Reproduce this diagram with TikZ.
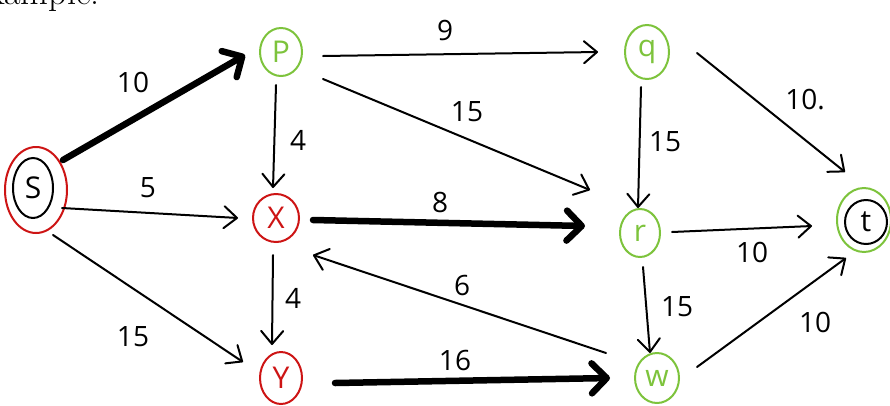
\documentclass[tikz,border=0pt]{standalone}
\usepackage{fontspec}
\newfontfamily\hand{Open Sans}
\usetikzlibrary{arrows.meta,shapes.geometric,calc}
\definecolor{hred}{RGB}{205,20,20}
\definecolor{hgreen}{RGB}{125,195,60}
\begin{document}
\begin{tikzpicture}[x=1pt,y=-1pt,
  vtx/.style={ellipse,draw,line width=2pt,inner sep=0pt,font=\hand\fontsize{30}{30}\selectfont},
  lbl/.style={font=\hand\fontsize{28}{28}\selectfont,inner sep=0pt},
  thin/.style={line width=2pt,line cap=round,-{Straight Barb[round,length=13pt,width=22pt]}},
  thick/.style={line width=6.5pt,line cap=round,-{Straight Barb[round,length=15pt,width=30pt]}}]
\clip (0,0) rectangle (890,405);
\useasboundingbox (0,0) rectangle (890,405);
\node[anchor=base east,font=\fontsize{36}{36}\selectfont,inner sep=0pt] (ex) at (100,4) {Example:};
% vertices
\node[vtx,draw=hred,minimum width=62pt,minimum height=86pt] (s) at (36,190) {};
\node[vtx,minimum width=40pt,minimum height=60pt] (sin) at (33,188) {S};
\node[vtx,draw=hgreen,text=hgreen,minimum width=42pt,minimum height=48pt] (p) at (281,52) {P};
\node[vtx,draw=hred,text=hred,minimum width=46pt,minimum height=48pt] (x) at (276,218) {X};
\node[vtx,draw=hred,text=hred,minimum width=42pt,minimum height=52pt] (y) at (281,378) {Y};
\node[vtx,draw=hgreen,text=hgreen,minimum width=44pt,minimum height=54pt] (q) at (647,52) {q};
\node[vtx,draw=hgreen,text=hgreen,minimum width=40pt,minimum height=48pt] (r) at (640,233) {r};
\node[vtx,draw=hgreen,text=hgreen,minimum width=44pt,minimum height=50pt] (w) at (657,378) {w};
\node[vtx,draw=hgreen,minimum width=54pt,minimum height=64pt] (t) at (864,220) {};
\node[vtx,minimum width=42pt,minimum height=44pt] (tin) at (866,222) {t};
% edges
\draw[thick] ($(s)+(27,-30)$) -- ($(p)+(-36,3)$);
\draw[thin] ($(s)+(26,18)$) -- ($(x)+(-38,0)$);
\draw[thin] ($(s)+(17,45)$) -- ($(y)+(-38,-16)$);
\draw[thin] ($(p)+(-5,33)$) -- ($(x)+(-3,-30)$);
\draw[thin] ($(p)+(42,4)$) -- ($(q)+(-49,0)$);
\draw[thin] ($(p)+(42,27)$) -- ($(r)+(-50,-43)$);
\draw[thick] ($(x)+(37,2)$) -- ($(r)+(-55,-7)$);
\draw[thin] ($(x)+(-3,37)$) -- ($(y)+(-9,-33)$);
\draw[thin] ($(w)+(-51,-25)$) -- ($(x)+(37,37)$);
\draw[thick] ($(y)+(54,5)$) -- ($(w)+(-47,0)$);
\draw[thin] ($(q)+(-6,35)$) -- ($(r)+(-2,-25)$);
\draw[thin] ($(q)+(50,1)$) -- ($(t)+(-19,-48)$);
\draw[thin] ($(r)+(32,-1)$) -- ($(t)+(-52,6)$);
\draw[thin] ($(r)+(3,34)$) -- ($(w)+(-7,-25)$);
\draw[thin] ($(w)+(40,-11)$) -- ($(t)+(-18,38)$);
% labels
\node[lbl] (l1) at (133,82) {10};
\node[lbl] (l2) at (148,188) {5};
\node[lbl] (l3) at (133,337) {15};
\node[lbl] (l4) at (298,140) {4};
\node[lbl] (l5) at (445,30) {9};
\node[lbl] (l6) at (467,112) {15};
\node[lbl] (l7) at (440,202) {8};
\node[lbl] (l8) at (293,298) {4};
\node[lbl] (l9) at (462,285) {6};
\node[lbl] (l10) at (455,360) {16};
\node[lbl] (l11) at (665,142) {15};
\node[lbl] (l12) at (805,100) {10.};
\node[lbl] (l13) at (752,252) {10};
\node[lbl] (l14) at (677,307) {15};
\node[lbl] (l15) at (815,322) {10};
\end{tikzpicture}
\end{document}
